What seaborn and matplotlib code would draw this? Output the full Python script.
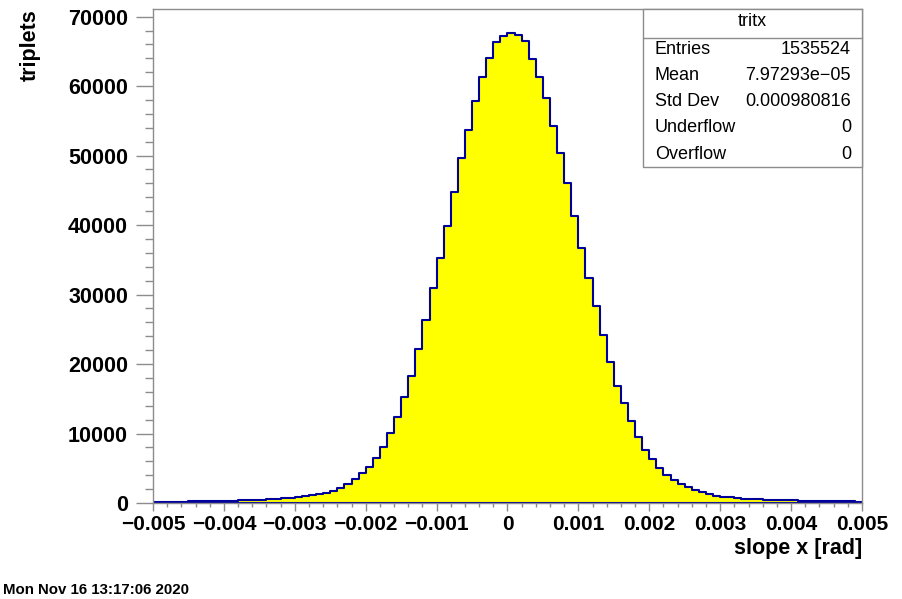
import numpy as np
import pandas as pd
import seaborn as sns
import matplotlib.pyplot as plt
from matplotlib.patches import Rectangle
from matplotlib.lines import Line2D

# bin contents of tritx, 100 bins over [-0.005, 0.005]
counts = [
    170, 180, 190, 200, 210, 220, 240, 250, 270, 290,
    310, 340, 370, 400, 440, 480, 530, 590, 660, 740,
    830, 950, 1100, 1270, 1450, 1680, 2110, 2750, 3500, 4270,
    5180, 6430, 8100, 10020, 12330, 15300, 18270, 22110, 26330, 30980,
    35200, 39860, 44800, 49690, 53670, 57890, 61340, 63980, 66380, 67200,
    67700, 67340, 66450, 63840, 61340, 58320, 54240, 50400, 46000, 41340,
    36640, 32330, 28390, 24170, 20240, 16830, 14340, 11800, 9500, 7630,
    6300, 5030, 4030, 3260, 2730, 2250, 1870, 1530, 1250, 1060,
    910, 810, 720, 640, 580, 530, 490, 460, 430, 400,
    380, 350, 330, 310, 290, 270, 255, 240, 225, 210,
]
x_range = (-0.005, 0.005)
x_ticks = [-0.005, -0.004, -0.003, -0.002, -0.001, 0, 0.001, 0.002, 0.003, 0.004, 0.005]
x_ticklabels = ['\u22120.005', '\u22120.004', '\u22120.003', '\u22120.002', '\u22120.001',
                '0', '0.001', '0.002', '0.003', '0.004', '0.005']
y_ticks = [0, 10000, 20000, 30000, 40000, 50000, 60000, 70000]
y_max = 71100

hist_name = 'tritx'
stat_names = ['Entries', 'Mean', 'Std Dev', 'Underflow', 'Overflow']
stat_values = ['1535524', '7.97293e\u221205', '0.000980816', '0', '0']

edges = np.linspace(x_range[0], x_range[1], len(counts) + 1)
df = pd.DataFrame({'slope': (edges[:-1] + edges[1:]) / 2, 'triplets': counts})

sns.set_style('ticks')
plt.rcParams['font.family'] = ['Liberation Sans', 'DejaVu Sans']
plt.rcParams['text.color'] = 'black'
plt.rcParams['axes.labelcolor'] = 'black'
plt.rcParams['xtick.labelcolor'] = 'black'
plt.rcParams['ytick.labelcolor'] = 'black'

W, H = 902, 599
fig = plt.figure(figsize=(W / 100, H / 100), dpi=100)
ax = fig.add_axes([153 / W, 1 - 503 / H, 709 / W, 494 / H])

sns.histplot(data=df, x='slope', weights='triplets', bins=len(counts), binrange=x_range,
             element='step', fill=True, color='#ffff00', alpha=1,
             edgecolor='#00009a', linewidth=1.5, ax=ax)

ax.set_xlim(*x_range)
ax.set_ylim(0, y_max)

grey = '#8c8c8c'
for s in ax.spines.values():
    s.set_color(grey)
    s.set_linewidth(1)

ax.set_xticks(x_ticks)
ax.set_xticklabels(x_ticklabels)
ax.set_xticks(np.arange(-0.005, 0.00501, 0.0002), minor=True)
ax.set_yticks(y_ticks)
ax.set_yticklabels([str(v) for v in y_ticks])
ax.set_yticks(np.arange(0, 70001, 2000), minor=True)

ax.tick_params(axis='x', which='major', direction='out', length=6, width=1,
               color=grey, labelsize=15, labelcolor='black', pad=3)
ax.tick_params(axis='x', which='minor', direction='out', length=3, width=1, color=grey)
ax.tick_params(axis='y', which='major', direction='out', length=12, width=1,
               color=grey, labelsize=15.5, labelcolor='black', pad=6)
ax.tick_params(axis='y', which='minor', direction='out', length=6, width=1, color=grey)
for lab in ax.get_xticklabels() + ax.get_yticklabels():
    lab.set_fontweight('bold')

ax.set_xlabel('slope x [rad]', fontsize=15.5, fontweight='bold', loc='right', color='black')
ax.xaxis.set_label_coords(1.0, -0.07)
ax.set_ylabel('triplets', fontsize=15.5, fontweight='bold', loc='top', color='black')
ax.yaxis.set_label_coords(-0.158, 1.0)

# stats box
bx0, bx1 = 643 / W, 862 / W
by0, by1 = 1 - 167 / H, 1 - 9 / H
fig.add_artist(Rectangle((bx0, by0), bx1 - bx0, by1 - by0, transform=fig.transFigure,
                         facecolor='white', edgecolor=grey, linewidth=1, zorder=5))
sep = 1 - 38 / H
fig.add_artist(Line2D([bx0, bx1], [sep, sep], transform=fig.transFigure,
                      color=grey, linewidth=1, zorder=6))
fig.text((bx0 + bx1) / 2, 1 - 22 / H, hist_name, ha='center', va='center',
         fontsize=13, zorder=7)
row_y = [49, 75, 101, 128, 154]
for name, val, yy in zip(stat_names, stat_values, row_y):
    fig.text(655 / W, 1 - yy / H, name, ha='left', va='center', fontsize=13, zorder=7)
    fig.text(851 / W, 1 - yy / H, val, ha='right', va='center', fontsize=13, zorder=7)

fig.text(3 / W, 1 - 590 / H, 'Mon Nov 16 13:17:06 2020', ha='left', va='center',
         fontsize=10.8, fontweight='bold')

fig.savefig('out.png', dpi=100)
plt.close(fig)
